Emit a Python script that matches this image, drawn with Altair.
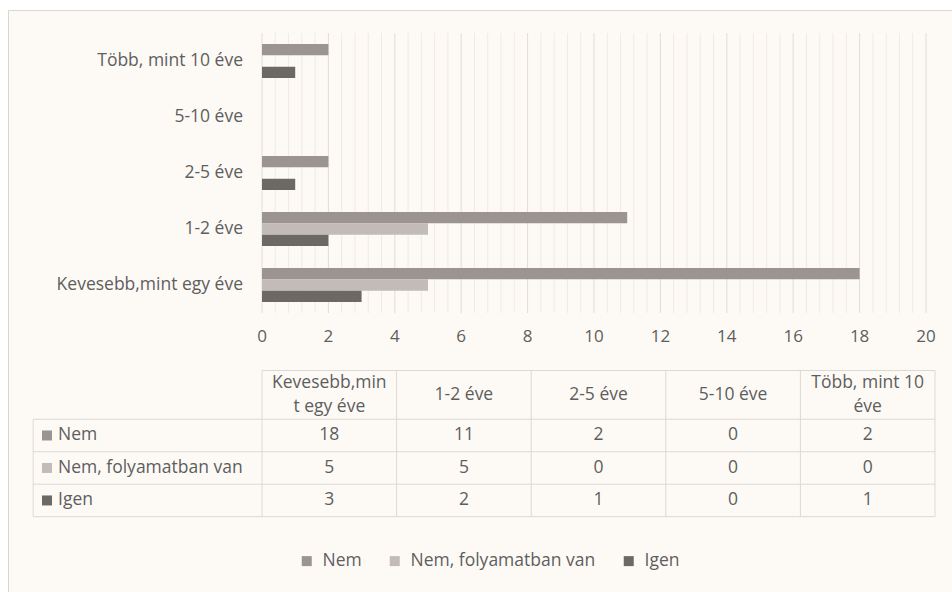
import altair as alt
import pandas as pd

# ---------------- data ----------------
categories = ["Kevesebb,mint egy éve", "1-2 éve", "2-5 éve", "5-10 éve", "Több, mint 10 éve"]
header_lines = [["Kevesebb,min", "t egy éve"], ["1-2 éve"], ["2-5 éve"], ["5-10 éve"], ["Több, mint 10", "éve"]]
series = ["Nem", "Nem, folyamatban van", "Igen"]
nem = [18, 11, 2, 0, 2]
folyamatban = [5, 5, 0, 0, 0]
igen = [3, 2, 1, 0, 1]
tick_labels = [0, 2, 4, 6, 8, 10, 12, 14, 16, 18, 20]
colors = ["#9b9491", "#c2bbb8", "#6c6864"]

# ---------------- style ----------------
FONT = "Open Sans"
FS = 17.5
TXT = "#5e5e5e"
BG = "#fdfaf6"
MAJOR = "#e2dcd9"
MINOR = "#f1e9e7"
TLINE = "#dcd8d5"
W, H = 952, 592
ROW_PX = 32.47
LINE_PX = 24

values_by_series = {"Nem": nem, "Nem, folyamatban van": folyamatban, "Igen": igen}
bar_df = pd.DataFrame([
    {"cat": c, "series": s, "value": values_by_series[s][i]}
    for s in series for i, c in enumerate(categories)
])
cat_top_down = list(reversed(categories))

x_scale = alt.Scale(domain=[0, 20], range=[262, 926], zero=False, nice=False)
y_scale = alt.Scale(domain=cat_top_down, range=[33, 313], paddingInner=0.393, paddingOuter=0.1965)
off_scale = alt.Scale(domain=series, paddingInner=0, paddingOuter=0)
color_scale = alt.Scale(domain=series, range=colors)
tx_scale = alt.Scale(domain=[-1.7, 5], range=[33.2, 935], zero=False, nice=False)
ty_scale = alt.Scale(domain=[-1.5, 3], range=[370.5, 516.7], zero=False, nice=False)

frame = alt.Chart(pd.DataFrame({"a": [0]})).mark_rect(
    fill=BG, stroke="#d9d6d3", strokeWidth=1
).encode(x=alt.value(8.5), x2=alt.value(1400), y=alt.value(10.5), y2=alt.value(1400))

# gridlines every 0.4, major every 2
grid_vals = [round(i * 0.4, 1) for i in range(51)]
minor_df = pd.DataFrame({"v": [v for v in grid_vals if abs(v / 2 - round(v / 2)) > 1e-9]})
major_df = pd.DataFrame({"v": [v for v in grid_vals if abs(v / 2 - round(v / 2)) <= 1e-9]})
grid_minor = alt.Chart(minor_df).mark_rule(color=MINOR, strokeWidth=1).encode(
    x=alt.X("v:Q", scale=x_scale, axis=None), y=alt.value(33), y2=alt.value(313))
grid_major = alt.Chart(major_df).mark_rule(color=MAJOR, strokeWidth=1).encode(
    x=alt.X("v:Q", scale=x_scale, axis=None), y=alt.value(33), y2=alt.value(313))

bars = alt.Chart(bar_df).mark_bar().encode(
    x=alt.X("value:Q", scale=x_scale, axis=None),
    y=alt.Y("cat:N", scale=y_scale, axis=None),
    yOffset=alt.YOffset("series:N", scale=off_scale),
    color=alt.Color("series:N", scale=color_scale, legend=alt.Legend(
        title=None, orient="none", legendX=298, legendY=552, direction="horizontal",
        symbolType="square", symbolSize=100, symbolStrokeWidth=0,
        labelFont=FONT, labelFontSize=FS, labelColor=TXT, labelOffset=7, labelLimit=0,
        columnPadding=24, padding=0)),
)

ylab = alt.Chart(pd.DataFrame({"cat": categories})).mark_text(
    align="right", baseline="middle", font=FONT, fontSize=FS, color=TXT
).encode(y=alt.Y("cat:N", scale=y_scale, axis=None), x=alt.value(243), text="cat:N")

ticks = alt.Chart(pd.DataFrame({"t": tick_labels})).mark_text(
    align="center", baseline="middle", font=FONT, fontSize=FS - 0.5, color=TXT
).encode(x=alt.X("t:Q", scale=x_scale, axis=None), y=alt.value(337), text="t:Q")

# ---------------- data table ----------------
ncol = len(categories)
nrow = len(series)
segs = [{"x": 0, "x2": ncol, "y": -1.5, "y2": -1.5}]
segs += [{"x": -1.7, "x2": ncol, "y": r, "y2": r} for r in range(nrow + 1)]
segs += [{"x": -1.7, "x2": -1.7, "y": 0, "y2": nrow}]
segs += [{"x": c, "x2": c, "y": -1.5, "y2": nrow} for c in range(ncol + 1)]
tlines = alt.Chart(pd.DataFrame(segs)).mark_rule(color=TLINE, strokeWidth=1).encode(
    x=alt.X("x:Q", scale=tx_scale, axis=None), x2="x2:Q",
    y=alt.Y("y:Q", scale=ty_scale, axis=None), y2="y2:Q")

cells = pd.DataFrame([
    {"cx": i + 0.5, "cy": r + 0.5, "txt": str(values_by_series[s][i])}
    for r, s in enumerate(series) for i in range(ncol)
])
tcells = alt.Chart(cells).mark_text(
    align="center", baseline="middle", font=FONT, fontSize=FS, color=TXT
).encode(x=alt.X("cx:Q", scale=tx_scale, axis=None),
         y=alt.Y("cy:Q", scale=ty_scale, axis=None), text="txt:N")

head_rows = []
for i, lines in enumerate(header_lines):
    k = len(lines)
    for j, ln in enumerate(lines):
        head_rows.append({"cx": i + 0.5, "cy": -0.75 + (j - (k - 1) / 2) * LINE_PX / ROW_PX, "txt": ln})
theads = alt.Chart(pd.DataFrame(head_rows)).mark_text(
    align="center", baseline="middle", font=FONT, fontSize=FS, color=TXT
).encode(x=alt.X("cx:Q", scale=tx_scale, axis=None),
         y=alt.Y("cy:Q", scale=ty_scale, axis=None), text="txt:N")

rows = pd.DataFrame([{"ry": r + 0.5, "series2": s} for r, s in enumerate(series)])
rsq = alt.Chart(rows).mark_square(size=100, opacity=1, strokeWidth=0).encode(
    x=alt.value(47), y=alt.Y("ry:Q", scale=ty_scale, axis=None),
    color=alt.Color("series2:N", scale=color_scale, legend=None))
rtxt = alt.Chart(rows).mark_text(
    align="left", baseline="middle", font=FONT, fontSize=FS, color=TXT
).encode(x=alt.value(58), y=alt.Y("ry:Q", scale=ty_scale, axis=None), text="series2:N")

chart = alt.layer(
    frame, grid_minor, grid_major, bars, ylab, ticks, tlines, tcells, theads, rsq, rtxt
).resolve_scale(
    x="independent", y="independent", color="independent"
).properties(
    width=W, height=H, padding=0, background="white",
    autosize=alt.AutoSizeParams(type="none"),
).configure_view(stroke=None)

chart.save("out.html", embed_options={"renderer": "svg", "actions": False})
